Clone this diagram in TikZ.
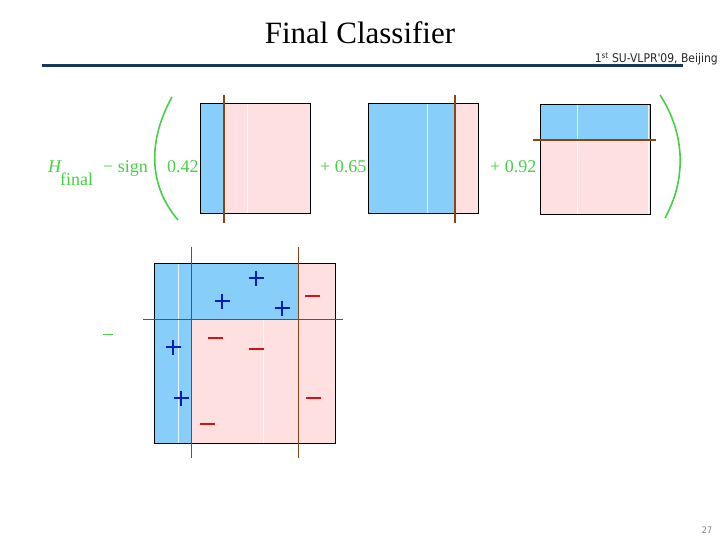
\documentclass[tikz,border=0pt]{standalone}
\usepackage{fontspec}
\setmainfont{Liberation Serif}
\newfontfamily\hdrfont{DejaVu Sans Condensed}
\definecolor{skyb}{RGB}{135,206,250}
\definecolor{pinkr}{RGB}{255,224,224}
\definecolor{brn}{RGB}{139,69,19}
\definecolor{grn}{RGB}{70,208,70}
\definecolor{navy}{RGB}{20,55,90}
\definecolor{plusc}{RGB}{0,30,180}
\definecolor{minusc}{RGB}{210,20,20}
\tikzset{
  frame/.style={draw=black, line width=1pt},
  cut/.style={draw=brn, line width=1.6pt},
  cutthin/.style={draw=brn, line width=0.9pt},
  faint/.style={draw=white, line width=0.7pt, opacity=0.8},
  gtext/.style={text=grn, font=\fontsize{18}{18}\selectfont, inner sep=0pt},
  paren/.style={draw=grn, line width=1.6pt},
  plusmark/.style={draw=plusc, line width=2.4pt},
  minusmark/.style={draw=minusc, line width=2.4pt}
}
\newcommand{\plusat}[2]{\draw[plusmark] (#1-7.5,#2) -- (#1+7.5,#2) (#1,#2-7.5) -- (#1,#2+7.5);}
\newcommand{\minusat}[2]{\draw[minusmark] (#1-7.5,#2) -- (#1+7.5,#2);}
\begin{document}
\begin{tikzpicture}[x=1pt,y=-1pt]
\useasboundingbox (0,0) rectangle (720,540);
% header
\node[inner sep=0pt, font=\fontsize{31}{31}\selectfont] (title) at (360,33) {Final Classifier};
\draw[navy, line width=3pt] (42,66) coordinate (hl) -- (683,66) coordinate (hr);
\node[inner sep=0pt, anchor=east, font=\hdrfont\fontsize{12}{12}\selectfont, text=black!85] (conf) at (718,59) {1\textsuperscript{st} SU-VLPR'09, Beijing};
\node[inner sep=0pt, font=\hdrfont\fontsize{9}{9}\selectfont, text=gray] (pnum) at (707,530) {27};
% formula
\node[gtext, anchor=base west] (H) at (48,173) {\itshape H};
\node[gtext, anchor=base west] (fin) at (60,186) {final};
\node[gtext, anchor=base west] (sgn) at (103,173) {− sign};
\node[gtext, anchor=base west] (c1) at (167,173) {0.42};
\node[gtext, anchor=base west] (c2) at (320,173) {+ 0.65};
\node[gtext, anchor=base west] (c3) at (490,173) {+ 0.92};
\draw[paren] (172,97) .. controls (148,140) and (148,185) .. (178,220);
\draw[paren] (660,95) .. controls (686,135) and (686,180) .. (665,218);
% box 1
\fill[pinkr] (200,104) rectangle (310,214);
\fill[skyb] (200,104) rectangle (224,214);
\draw[faint] (247,104) -- (247,214);
\draw[frame] (200,104) rectangle (310,214);
\draw[cut] (224,95) -- (224,223);
% box 2
\fill[pinkr] (368,104) rectangle (478,214);
\fill[skyb] (368,104) rectangle (455,214);
\draw[faint] (427,104) -- (427,214);
\draw[frame] (368,104) rectangle (478,214);
\draw[cut] (455,95) -- (455,223);
% box 3
\fill[pinkr] (540,105) rectangle (650,215);
\fill[skyb] (540,105) rectangle (650,140);
\draw[faint] (577,105) -- (577,215);
\draw[faint] (648,105) -- (648,215);
\draw[frame] (540,105) rectangle (650,215);
\draw[cut] (533,140) -- (656,140);
% combined box
\fill[pinkr] (154,263) rectangle (335,443);
\fill[skyb] (154,263) rectangle (191,443);
\fill[skyb] (191,263) rectangle (298,319);
\draw[faint] (178,263) -- (178,443);
\draw[faint] (263,319) -- (263,443);
\draw[frame] (154,263) rectangle (335,443);
\draw[cutthin] (191,247) -- (191,458);
\draw[cutthin] (298,247) -- (298,458);
\draw[cutthin] (143,319) -- (343,319);
\plusat{256}{278}
\plusat{222}{301}
\plusat{282}{308}
\plusat{173}{347}
\plusat{181}{398}
\draw[minusmark, line width=1.3pt] (305,296) -- (320,296);
\minusat{215}{338}
\minusat{256}{349}
\minusat{313}{398}
\minusat{207}{424}
\draw[draw=grn, line width=1pt] (103,334) -- (113,334);
\end{tikzpicture}
\end{document}
